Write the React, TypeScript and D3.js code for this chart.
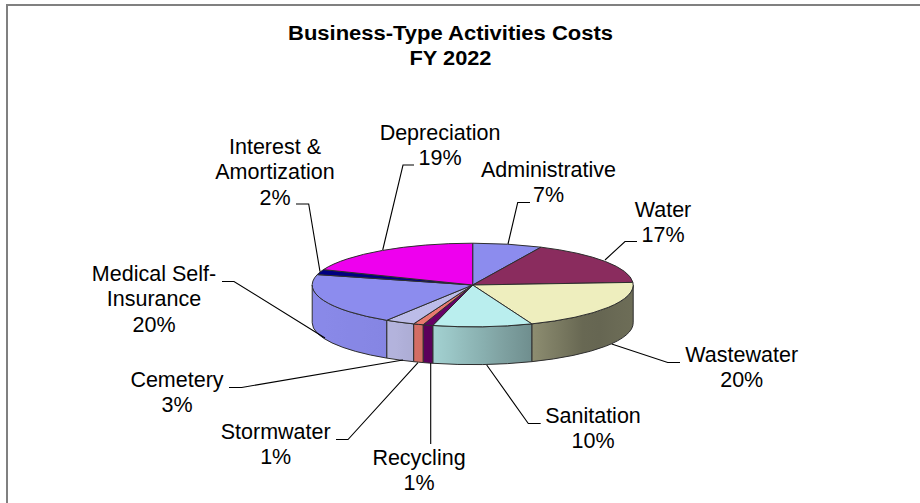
import React from "react";
import * as d3 from "d3";

const categories = ["Administrative","Water","Wastewater","Sanitation","Recycling","Stormwater","Cemetery","Medical Self-Insurance","Interest & Amortization","Depreciation"];
const shares = [7,17,20,10,1,1,3,20,2,19];
const topColors = ["#8c8cee","#8a2c5e","#eeeebe","#baeeee","#660066","#e8796f","#bcbce8","#8c8cee","#000080","#ee00ee"];
const labelLines = [
  ["Administrative","7%"],["Water","17%"],["Wastewater","20%"],["Sanitation","10%"],["Recycling","1%"],
  ["Stormwater","1%"],["Cemetery","3%"],["Medical Self-","Insurance","20%"],["Interest &","Amortization","2%"],["Depreciation","19%"],
];
const labelAnchors: [number,number][] = [[548.5,177],[663,217],[741.7,361.5],[593,422.5],[419,464.5],[275.7,439],[177,387],[154,281],[275,154],[440,140]];
const leaders: [number,number][][] = [
  [[508,244],[517.7,202.5],[530,202.5]],
  [[605,260],[625,241.5],[637,241.5]],
  [[611.7,344],[667.7,362.5],[680,362.5]],
  [[486.7,365],[528.3,423.5],[540.7,423.5]],
  [[430.7,363],[430.7,444]],
  [[418,362.7],[348,439.5],[336,439.5]],
  [[403,360],[241.7,387.5],[229,387.5]],
  [[325,338],[234,281.5],[222,281.5]],
  [[320,271.7],[308.7,204],[296,204]],
  [[382.7,250],[403,165],[414,165]],
];
// Brightness of the rim across the pie's width, left edge to right edge.
const rimStops = [0, 0.26, 0.39, 0.7, 0.86, 1];
const rimShade = [0.98, 0.95, 0.87, 0.58, 0.42, 0.46];

const width = 920, height = 503;
const cx = 472.7, cy = 285, rx = 160.5, ry = 41.8, depth = 37.8;
const lineHeight = 25.3;

const shadeAt = d3.scaleLinear<number>().domain(rimStops).range(rimShade).clamp(true);
const fraction = (x: number) => (x - (cx - rx)) / (2 * rx);

function shaded(c: string, k: number) {
  const rgb = d3.rgb(c);
  return d3.rgb(rgb.r * k, rgb.g * k, rgb.b * k).formatHex();
}

function ellipsePoint(a: number, dy = 0): [number, number] {
  return [cx + rx * Math.sin(a), cy - ry * Math.cos(a) + dy];
}

export default function App() {
  const arcs = d3.pie<number>().sort(null).value(d => d)(shares);
  const topPath = (a0: number, a1: number) => {
    const p0 = ellipsePoint(a0), p1 = ellipsePoint(a1);
    return `M${cx},${cy}L${p0}A${rx},${ry} 0 ${a1 - a0 > Math.PI ? 1 : 0} 1 ${p1}Z`;
  };
  // Visible rim: the front half of the ellipse, between 90° and 270° clockwise from the top.
  const sidePath = (a0: number, a1: number) => {
    const s = Math.max(a0, Math.PI / 2), e = Math.min(a1, Math.PI * 1.5);
    if (s >= e) return null;
    const p0 = ellipsePoint(s), p1 = ellipsePoint(e), q0 = ellipsePoint(s, depth), q1 = ellipsePoint(e, depth);
    return { d: `M${p0}A${rx},${ry} 0 0 1 ${p1}L${q1}A${rx},${ry} 0 0 0 ${q0}Z`, x0: Math.min(p0[0], p1[0]), x1: Math.max(p0[0], p1[0]) };
  };
  const line = d3.line();
  const sides = arcs.map((a, i) => ({ i, s: sidePath(a.startAngle, a.endAngle) })).filter(o => o.s);
  return (
    <svg width={width} height={height} style={{ position: "absolute", left: 0, top: 0, background: "#fff" }} fontFamily="'Liberation Sans', Arial, sans-serif">
      <defs>
        {sides.map(({ i, s }) => (
          <linearGradient key={i} id={`rim${i}`} gradientUnits="userSpaceOnUse" x1={s!.x0} x2={s!.x1} y1={0} y2={0}>
            {d3.range(7).map(j => {
              const t = j / 6;
              const x = s!.x0 + t * (s!.x1 - s!.x0);
              return <stop key={j} offset={t} stopColor={shaded(topColors[i], shadeAt(fraction(x)))} />;
            })}
          </linearGradient>
        ))}
      </defs>
      <rect x={7} y={5} width={width + 10} height={height + 10} fill="none" stroke="#808080" strokeWidth={2} />
      <text x={450.5} y={39.5} fontSize={20} fontWeight="bold" textAnchor="middle" textLength={325} lengthAdjust="spacingAndGlyphs">Business-Type Activities Costs</text>
      <text x={450.5} y={64.5} fontSize={20} fontWeight="bold" textAnchor="middle" textLength={82} lengthAdjust="spacingAndGlyphs">FY 2022</text>

      {sides.map(({ i, s }) => (
        <path key={i} d={s!.d} fill={`url(#rim${i})`} stroke="#2e2e2e" strokeWidth={1} />
      ))}
      {arcs.map((a, i) => (
        <path key={i} d={topPath(a.startAngle, a.endAngle)} fill={topColors[i]} stroke="#2e2e2e" strokeWidth={1} strokeLinejoin="round" />
      ))}

      {leaders.map((pts, i) => (
        <path key={categories[i]} d={line(pts)!} fill="none" stroke="#000" strokeWidth={1.1} />
      ))}
      {labelLines.map((lines, i) => (
        <text key={i} x={labelAnchors[i][0]} y={labelAnchors[i][1]} fontSize={21.5} textAnchor="middle" fill="#000">
          {lines.map((t, j) => <tspan key={j} x={labelAnchors[i][0]} dy={j === 0 ? 0 : lineHeight}>{t}</tspan>)}
        </text>
      ))}
    </svg>
  );
}
